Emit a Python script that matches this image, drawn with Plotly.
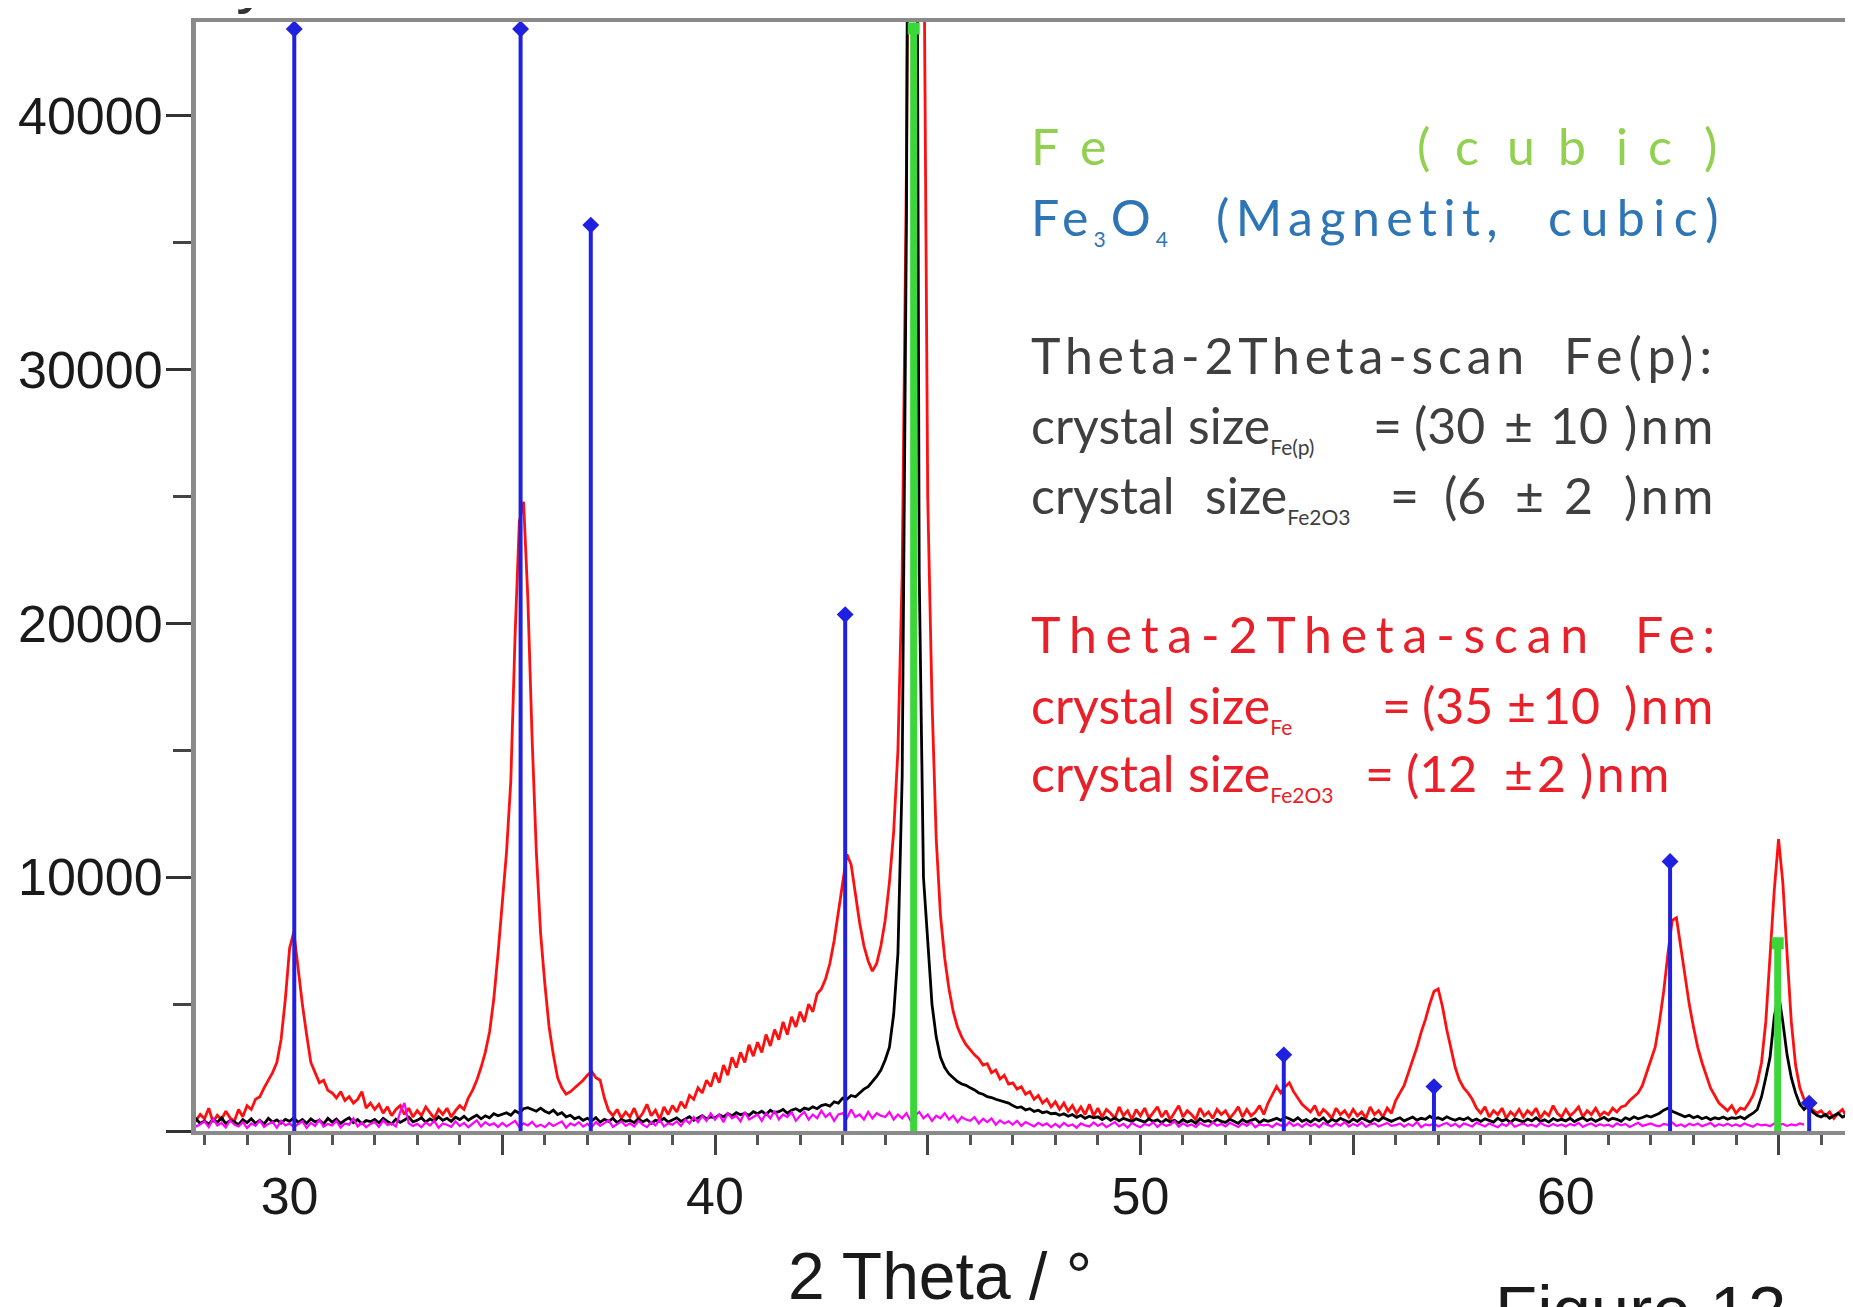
import plotly.graph_objects as go

# ---------------- data ----------------
X_START = 27.0      # first row starts at 27.0 deg, one row per degree, 0.1 deg step
X_STEP = 0.1

red_scan_fe = [
    [620, 380, 700, 450, 820, 300, 560, 760, 420, 650],          # 27
    [480, 900, 350, 620, 450, 780, 520, 380, 850, 560],          # 28
    [1000, 850, 1250, 1350, 1700, 2000, 2300, 2700, 3600, 5200], # 29
    [7200, 7850, 6300, 5000, 3800, 2700, 2300, 1900, 2000, 1600],# 30
    [1500, 1300, 1550, 1200, 1350, 1100, 1250, 1550, 900, 1100], # 31
    [850, 1050, 700, 950, 600, 850, 1000, 650, 900, 550],        # 32
    [800, 600, 950, 700, 500, 850, 650, 900, 550, 800],          # 33
    [1000, 850, 1300, 1600, 2000, 2500, 3100, 3900, 5200, 7000], # 34
    [9000, 11000, 13800, 19500, 24000, 24800, 21000, 15500, 11000, 7800],  # 35
    [5800, 4100, 3000, 2100, 1700, 1450, 1550, 1700, 1850, 2000],# 36
    [2200, 2350, 2100, 2000, 1300, 800, 600, 850, 500, 750],     # 37
    [550, 900, 480, 700, 1050, 600, 820, 450, 950, 650],         # 38
    [1000, 750, 1150, 900, 1400, 1250, 1700, 1500, 2000, 1750],  # 39
    [2300, 1900, 2600, 2200, 2900, 2500, 3100, 2700, 3400, 2950],# 40
    [3500, 3100, 3800, 3350, 4000, 3600, 4300, 3800, 4500, 4100],# 41
    [4700, 4300, 5000, 4700, 5400, 5600, 6000, 6600, 7500, 8600],# 42
    [9800, 10900, 10500, 9300, 8200, 7300, 6700, 6300, 6600, 7300],       # 43
    [8300, 9800, 11800, 15000, 22000, 38000, 70000, 88000, 75000, 50000], # 44
    [25000, 17000, 11500, 8500, 6800, 5600, 4700, 4100, 3700, 3400],      # 45
    [3200, 3000, 2850, 2600, 2650, 2300, 2400, 2050, 2200, 1850],# 46
    [1900, 1650, 1750, 1450, 1550, 1250, 1400, 1100, 1250, 950], # 47
    [1150, 850, 1100, 780, 1000, 700, 950, 650, 1050, 600],      # 48
    [900, 550, 850, 700, 500, 950, 600, 800, 450, 850],          # 49
    [600, 900, 500, 750, 950, 550, 800, 450, 700, 1000],         # 50
    [550, 800, 650, 450, 900, 600, 750, 500, 850, 650],          # 51
    [800, 500, 700, 950, 550, 850, 600, 750, 1000, 650],         # 52
    [1100, 1400, 1750, 1500, 1750, 1900, 1550, 1300, 1050, 900], # 53
    [750, 1000, 600, 850, 700, 500, 900, 650, 800, 550],         # 54
    [850, 600, 750, 500, 950, 650, 800, 550, 900, 700],          # 55
    [1200, 1500, 1800, 2300, 2800, 3300, 3900, 4400, 5000, 5500],# 56
    [5600, 4900, 4000, 3200, 2500, 2000, 1700, 1500, 1250, 900], # 57
    [700, 950, 550, 800, 650, 900, 500, 750, 600, 850],          # 58
    [550, 800, 650, 900, 500, 750, 600, 1000, 700, 550],         # 59
    [850, 600, 750, 950, 550, 800, 650, 900, 600, 750],          # 60
    [650, 900, 750, 950, 1000, 1200, 1350, 1500, 1800, 2300],    # 61
    [2800, 3300, 4300, 5500, 7000, 8300, 8400, 7200, 6000, 5000],# 62
    [4100, 3300, 2700, 2200, 1700, 1400, 1100, 950, 800, 1000],  # 63
    [700, 900, 850, 1100, 1400, 1900, 2700, 4300, 6800, 9500],   # 64
    [11500, 9800, 7000, 4300, 2600, 1700, 1250, 1000, 850, 700], # 65
    [800, 600, 750, 500, 700, 850, 550, 700, 600, 750],          # 66
]

black_scan_fep = [
    [320, 450, 250, 380, 500, 280, 420, 350, 480, 300],
    [400, 260, 470, 330, 520, 290, 410, 360, 250, 450],
    [330, 480, 300, 420, 270, 500, 350, 440, 310, 460],
    [380, 520, 340, 450, 300, 480, 360, 420, 280, 500],
    [350, 470, 300, 430, 520, 330, 450, 290, 410, 370],
    [460, 320, 500, 380, 280, 470, 340, 430, 550, 360],
    [420, 520, 350, 480, 380, 560, 420, 500, 380, 540],
    [450, 580, 420, 530, 620, 480, 600, 520, 680, 600],
    [650, 720, 620, 800, 700, 880, 920, 850, 780, 900],
    [780, 700, 820, 650, 720, 560, 620, 480, 550, 420],
    [500, 400, 530, 350, 460, 380, 500, 330, 450, 380],
    [420, 330, 480, 360, 450, 300, 420, 380, 500, 350],
    [430, 520, 380, 470, 560, 420, 520, 600, 480, 560],
    [520, 640, 560, 680, 600, 720, 640, 700, 620, 760],
    [680, 780, 650, 820, 720, 760, 850, 700, 820, 880],
    [780, 900, 850, 950, 880, 1000, 1050, 980, 1150, 1100],
    [1300, 1250, 1400, 1350, 1500, 1650, 1750, 1950, 2150, 2400],
    [2800, 3300, 4600, 7000, 14000, 36000, 80000, 75000, 22000, 10000],
    [7500, 5000, 3700, 2900, 2500, 2250, 2100, 1950, 1850, 1800],
    [1700, 1620, 1500, 1450, 1350, 1320, 1250, 1200, 1150, 1100],
    [1000, 920, 950, 830, 880, 770, 820, 720, 760, 680],
    [700, 620, 680, 580, 650, 540, 620, 500, 580, 520],
    [560, 450, 540, 420, 520, 400, 500, 430, 380, 480],
    [420, 350, 480, 380, 440, 330, 460, 360, 420, 310],
    [450, 350, 420, 300, 480, 370, 410, 330, 460, 380],
    [340, 460, 380, 300, 450, 350, 420, 480, 330, 440],
    [380, 450, 500, 420, 550, 480, 400, 520, 380, 450],
    [350, 480, 400, 520, 330, 460, 380, 500, 420, 340],
    [470, 380, 510, 420, 350, 480, 400, 530, 440, 380],
    [450, 520, 400, 480, 550, 430, 500, 460, 580, 480],
    [520, 450, 560, 480, 420, 500, 440, 530, 400, 470],
    [380, 480, 420, 350, 500, 400, 460, 340, 480, 420],
    [360, 470, 400, 520, 380, 440, 350, 490, 410, 460],
    [400, 500, 370, 460, 520, 410, 480, 380, 450, 540],
    [420, 500, 460, 380, 520, 450, 560, 480, 530, 600],
    [550, 620, 700, 820, 900, 780, 700, 620, 560, 620],
    [520, 580, 480, 540, 450, 520, 480, 550, 460, 520],
    [500, 560, 480, 600, 700, 850, 1350, 2100, 2900, 4500],
    [5400, 4300, 3000, 2100, 1500, 1050, 850, 1000, 750, 620],
    [550, 650, 500, 600, 700, 550, 620, 500, 580, 650],
]

magenta_scan = [
    [200, 350, 120, 280, 450, 150, 300, 520, 180, 260],
    [380, 150, 500, 220, 320, 140, 420, 250, 180, 350],
    [120, 300, 200, 420, 160, 280, 350, 130, 400, 220],
    [300, 150, 260, 380, 120, 320, 200, 450, 170, 280],
    [220, 400, 140, 300, 250, 500, 180, 330, 150, 280],
    [350, 160, 420, 240, 300, 180, 750, 1100, 300, 200],
    [280, 150, 340, 220, 400, 130, 300, 250, 160, 380],
    [200, 320, 150, 280, 420, 180, 350, 230, 300, 160],
    [320, 180, 280, 400, 150, 300, 220, 360, 170, 250],
    [150, 320, 200, 280, 380, 130, 300, 220, 350, 170],
    [280, 150, 350, 200, 300, 420, 160, 260, 380, 200],
    [300, 180, 400, 250, 150, 350, 220, 450, 180, 300],
    [250, 380, 200, 450, 300, 550, 350, 600, 400, 700],
    [450, 650, 350, 700, 500, 600, 380, 750, 450, 550],
    [650, 400, 700, 500, 800, 450, 650, 550, 750, 400],
    [600, 750, 450, 650, 500, 800, 550, 700, 400, 650],
    [700, 500, 850, 550, 650, 450, 750, 500, 700, 600],
    [550, 750, 450, 650, 500, 700, 400, 600, 750, 500],
    [650, 400, 600, 500, 700, 450, 600, 350, 550, 450],
    [400, 550, 300, 480, 350, 500, 250, 420, 300, 380],
    [250, 400, 200, 350, 280, 180, 320, 220, 300, 150],
    [280, 150, 320, 200, 260, 130, 300, 220, 180, 340],
    [200, 300, 150, 260, 350, 180, 280, 130, 320, 220],
    [150, 280, 220, 340, 160, 300, 200, 250, 380, 170],
    [300, 200, 260, 150, 320, 230, 180, 350, 210, 280],
    [180, 320, 240, 160, 300, 200, 340, 150, 260, 220],
    [250, 150, 300, 220, 180, 350, 200, 280, 160, 300],
    [200, 280, 150, 320, 240, 180, 300, 210, 350, 170],
    [280, 200, 340, 160, 260, 300, 180, 240, 320, 200],
    [230, 300, 170, 280, 200, 350, 150, 260, 220, 300],
    [180, 260, 320, 200, 280, 150, 300, 240, 180, 330],
    [260, 180, 300, 220, 150, 280, 200, 340, 170, 240],
    [300, 200, 250, 170, 320, 230, 180, 280, 200, 260],
    [180, 280, 220, 320, 160, 250, 300, 190, 270, 210],
    [250, 170, 300, 220, 280, 160, 240, 320, 200, 260],
    [300, 220, 180, 280, 240, 330, 200, 260, 170, 290],
    [220, 300, 190, 250, 320, 180, 270, 210, 290, 200],
    [260, 190, 300, 230, 170, 280, 220, 250, 190, 300],
    [230, 280, 200, 260, 220, 300, 250],
]

# reference stick patterns
fe3o4_pos = [30.11, 35.43, 37.08, 43.06, 53.37, 56.90, 62.45, 65.72]
fe3o4_int = [43430, 43430, 35700, 20350, 3000, 1750, 10620, 1100]
fe_pos = [44.67, 64.98]
fe_int = [43450, 7400]

x_tick_vals = [30, 35, 40, 45, 50, 55, 60, 65]
x_tick_text = ["30", "", "40", "", "50", "", "60", ""]
y_tick_vals = [0, 10000, 20000, 30000, 40000]
y_tick_text = ["", "10000", "20000", "30000", "40000"]


def flatten(rows):
    xs, ys = [], []
    for r, row in enumerate(rows):
        for i, v in enumerate(row):
            xs.append(round(X_START + r + X_STEP * i, 2))
            ys.append(v)
    return xs, ys


def sticks(pos, inten):
    xs, ys = [], []
    for p, h in zip(pos, inten):
        xs += [p, p, None]
        ys += [0, h, None]
    return xs, ys


# ---------------- geometry ----------------
# the page body has an 8 px margin, so the figure is drawn at (8, 8) of the window
OFF = 8
W, H = 1853 - OFF, 1307 - OFF
L, R, T, B = 196 - OFF, 0, 22 - OFF, 176
PX0, PX1 = L, W - R
PY0, PY1 = T, H - B


def fx(page_x):
    return (page_x - OFF - PX0) / (PX1 - PX0)


def fy(page_y):
    return (PY1 - (page_y - OFF)) / (PY1 - PY0)


fig = go.Figure()

rx, ry = flatten(red_scan_fe)
bx, by = flatten(black_scan_fep)
mx, my = flatten(magenta_scan)

fig.add_trace(go.Scatter(x=rx, y=ry, mode="lines", line=dict(color="#ff1010", width=2.8),
                         name="Theta-2Theta-scan Fe", showlegend=False))
fig.add_trace(go.Scatter(x=bx, y=by, mode="lines", line=dict(color="#000000", width=2.8),
                         name="Theta-2Theta-scan Fe(p)", showlegend=False))
fig.add_trace(go.Scatter(x=mx, y=my, mode="lines", line=dict(color="#ff00ff", width=2.2),
                         name="background", showlegend=False))

sx, sy = sticks(fe3o4_pos, fe3o4_int)
fig.add_trace(go.Scatter(x=sx, y=sy, mode="lines", line=dict(color="#2020e0", width=4),
                         showlegend=False))
fig.add_trace(go.Scatter(x=fe3o4_pos, y=fe3o4_int, mode="markers",
                         marker=dict(symbol="diamond", size=13, color="#2020e0"), showlegend=False))
gx, gy = sticks(fe_pos, fe_int)
fig.add_trace(go.Scatter(x=gx, y=gy, mode="lines", line=dict(color="#3ad63a", width=7),
                         showlegend=False))
fig.add_trace(go.Scatter(x=fe_pos, y=fe_int, mode="markers",
                         marker=dict(symbol="square", size=12, color="#3ad63a"), showlegend=False))

TICKFONT = dict(family="Liberation Sans, Arial, sans-serif", size=52, color="#1a1a1a")

fig.update_layout(
    width=W, height=H,
    margin=dict(l=L, r=R, t=T, b=B, pad=0),
    paper_bgcolor="white", plot_bgcolor="white",
    showlegend=False,
    xaxis=dict(range=[27.80, 66.75], showgrid=False, zeroline=False,
               showline=True, linecolor="#8a8a8a", linewidth=4, mirror=True,
               ticks="outside", ticklen=20, tickwidth=3, tickcolor="#444444",
               tickvals=x_tick_vals, ticktext=x_tick_text, tickfont=TICKFONT,
               ticklabelstandoff=-3,
               minor=dict(tick0=0, dtick=1, ticks="outside", ticklen=10, tickwidth=2.5,
                          tickcolor="#555555")),
    yaxis=dict(range=[0, 43704], showgrid=False, zeroline=False,
               showline=True, linecolor="#8a8a8a", linewidth=5, mirror=False,
               ticks="outside", ticklen=25, tickwidth=3, tickcolor="#333333",
               tickvals=y_tick_vals, ticktext=y_tick_text, tickfont=TICKFONT,
               ticklabelstandoff=-7,
               minor=dict(tick0=0, dtick=5000, ticks="outside", ticklen=18, tickwidth=3,
                          tickcolor="#444444")),
)

# ---------------- text ----------------
TXT = "Lato, Calibri, Carlito, sans-serif"
FS = 50
ASC = 50   # px from top of text box to baseline (font ascent + pad)
DX = -4    # glyph side bearing correction

GREEN = "#92d050"
BLUE = "#2e75b6"
DARK = "#3f3f3f"
RED = "#e8202a"


def sub(s):
    return "<sub><span style='font-size:21px'>" + s + "</span></sub>"


def ls(s, px):
    return "<span style='letter-spacing:%spx'>%s</span>" % (px, s)


segments = [
    # (text, left px, baseline px, colour) in window pixels
    ("F", 1033, 164, GREEN), ("e", 1082, 164, GREEN),
    ("(", 1419, 164, GREEN), ("c", 1457, 164, GREEN), ("u", 1509, 164, GREEN),
    ("b", 1560, 164, GREEN), ("i", 1618, 164, GREEN), ("c", 1650, 164, GREEN),
    (")", 1706, 164, GREEN),
    (ls("Fe" + sub("3") + "O" + sub("4"), 5), 1033, 235, BLUE),
    (ls("(Magnetit,", 6.5), 1218, 235, BLUE),
    (ls("cubic)", 8.5), 1550, 235, BLUE),
    (ls("Theta-2Theta-scan", 4.8), 1033, 373, DARK),
    (ls("Fe(p):", 6), 1566, 373, DARK),
    ("crystal", 1033, 443, DARK), ("size" + sub("Fe(p)"), 1190, 443, DARK),
    ("=", 1375, 443, DARK), ("(30", 1416, 443, DARK), ("±", 1506, 443, DARK),
    ("10", 1552, 443, DARK), (ls(")nm", 3.5), 1626, 443, DARK),
    ("crystal", 1033, 513, DARK), ("size" + sub("Fe2O3"), 1207, 513, DARK),
    ("=", 1392, 513, DARK), ("(6", 1446, 513, DARK), ("±", 1517, 513, DARK),
    ("2", 1566, 513, DARK), (ls(")nm", 3.5), 1626, 513, DARK),
    (ls("Theta-2Theta-scan", 8.8), 1033, 652, RED),
    (ls("Fe:", 7.5), 1637, 652, RED),
    ("crystal", 1033, 723, RED), ("size" + sub("Fe"), 1190, 723, RED),
    ("=", 1384, 723, RED), ("(35", 1424, 723, RED), ("±", 1509, 723, RED),
    ("10", 1544, 723, RED), (ls(")nm", 3.5), 1626, 723, RED),
    ("crystal", 1033, 791, RED), ("size" + sub("Fe2O3"), 1190, 791, RED),
    ("=", 1367, 791, RED), ("(12", 1408, 791, RED), ("±", 1506, 791, RED),
    ("2", 1539, 791, RED), (ls(")nm", 3.5), 1582, 791, RED),
]

annotations = []
for text, xl, base, col in segments:
    annotations.append(dict(text=text, x=fx(xl + DX), y=fy(base - ASC), xref="paper", yref="paper",
                            xanchor="left", yanchor="top", showarrow=False, align="left",
                            font=dict(family=TXT, size=FS, color=col)))

SANS = "Liberation Sans, Arial, sans-serif"
# y-axis title (cut off at the top of the picture, only the descenders show)
annotations.append(dict(text="Intensity / counts", x=fx(18), y=fy(2 - 65), xref="paper", yref="paper",
                        xanchor="left", yanchor="top", showarrow=False,
                        font=dict(family=SANS, size=67, color="#333333")))
# x-axis title
annotations.append(dict(text="2 Theta / °", x=fx(940), y=fy(1298 - 61), xref="paper", yref="paper",
                        xanchor="center", yanchor="top", showarrow=False,
                        font=dict(family=SANS, size=66, color="#1a1a1a")))
# figure caption (cut off)
annotations.append(dict(text="Figure 12", x=fx(1493), y=fy(1334 - 64), xref="paper", yref="paper",
                        xanchor="left", yanchor="top", showarrow=False,
                        font=dict(family=SANS, size=69, color="#1a1a1a")))

fig.update_layout(annotations=annotations)

fig.write_html("out.html")
